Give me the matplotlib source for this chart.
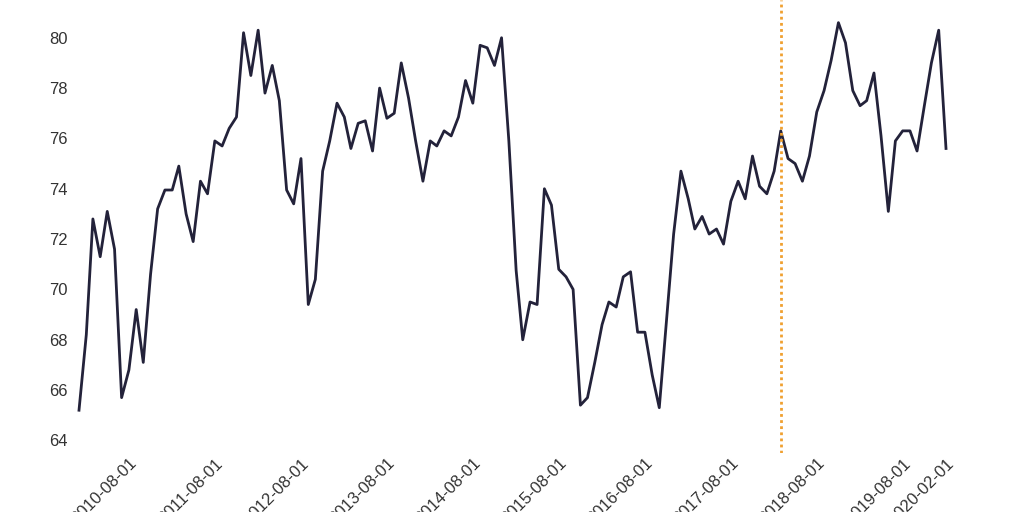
import matplotlib
matplotlib.use("Agg")
import matplotlib.pyplot as plt
import pandas as pd

values = [65.2,68.2,72.8,71.3,73.1,71.6,65.7,66.8,69.2,67.1,70.6,73.2,73.95,73.95,74.9,73.0,71.9,74.3,73.8,75.9,
75.7,76.4,76.85,80.2,78.5,80.3,77.8,78.9,77.5,73.95,73.4,75.2,69.4,70.4,74.7,75.9,77.4,76.85,75.6,76.6,
76.7,75.5,78.0,76.8,77.0,79.0,77.6,75.9,74.3,75.9,75.7,76.3,76.1,76.85,78.3,77.4,79.7,79.6,78.9,80.0,
75.9,70.75,68.0,69.5,69.4,74.0,73.35,70.8,70.5,70.0,65.4,65.7,67.1,68.6,69.5,69.3,70.5,70.7,68.3,68.3,
66.6,65.3,68.8,72.2,74.7,73.6,72.4,72.9,72.2,72.4,71.8,73.5,74.3,73.6,75.3,74.1,73.8,74.7,76.3,75.2,
75.0,74.3,75.3,77.05,77.9,79.1,80.6,79.8,77.9,77.3,77.5,78.6,76.1,73.1,75.9,76.3,76.3,75.5,77.3,79.0,
80.3,75.6]
dates = pd.date_range("2010-01-01", periods=len(values), freq="MS")
tick_labels = ["2010-08-01","2011-08-01","2012-08-01","2013-08-01","2014-08-01","2015-08-01",
               "2016-08-01","2017-08-01","2018-08-01","2019-08-01","2020-02-01"]
marker_date = "2018-03-01"

plt.rcParams['font.family'] = ['Liberation Sans', 'DejaVu Sans']
fig = plt.figure(figsize=(10.24, 5.12), dpi=100)
ax = fig.add_axes([79/1024, 1-453/512, (946-79)/1024, 453/512])
ax.plot(dates, values, color="#23223a", lw=2, clip_on=False)
ax.axvline(pd.Timestamp(marker_date), color="#f0a030", lw=2, ls=(0, (1, 1.2)))
ax.set_xlim(dates[0], dates[-1])
ax.set_ylim(63.5, 81.5)
ax.set_yticks(range(64, 81, 2))
tk = [pd.Timestamp(t) for t in tick_labels]
ax.set_xticks(tk)
ax.set_xticklabels(tick_labels, rotation=45, ha="right", rotation_mode="anchor")
ax.tick_params(axis="y", length=0, labelsize=12, colors="#333333", pad=8)
ax.tick_params(axis="x", length=0, labelsize=12, colors="#333333", pad=2)
for s in ax.spines.values():
    s.set_visible(False)
fig.savefig("out.png", dpi=100)
